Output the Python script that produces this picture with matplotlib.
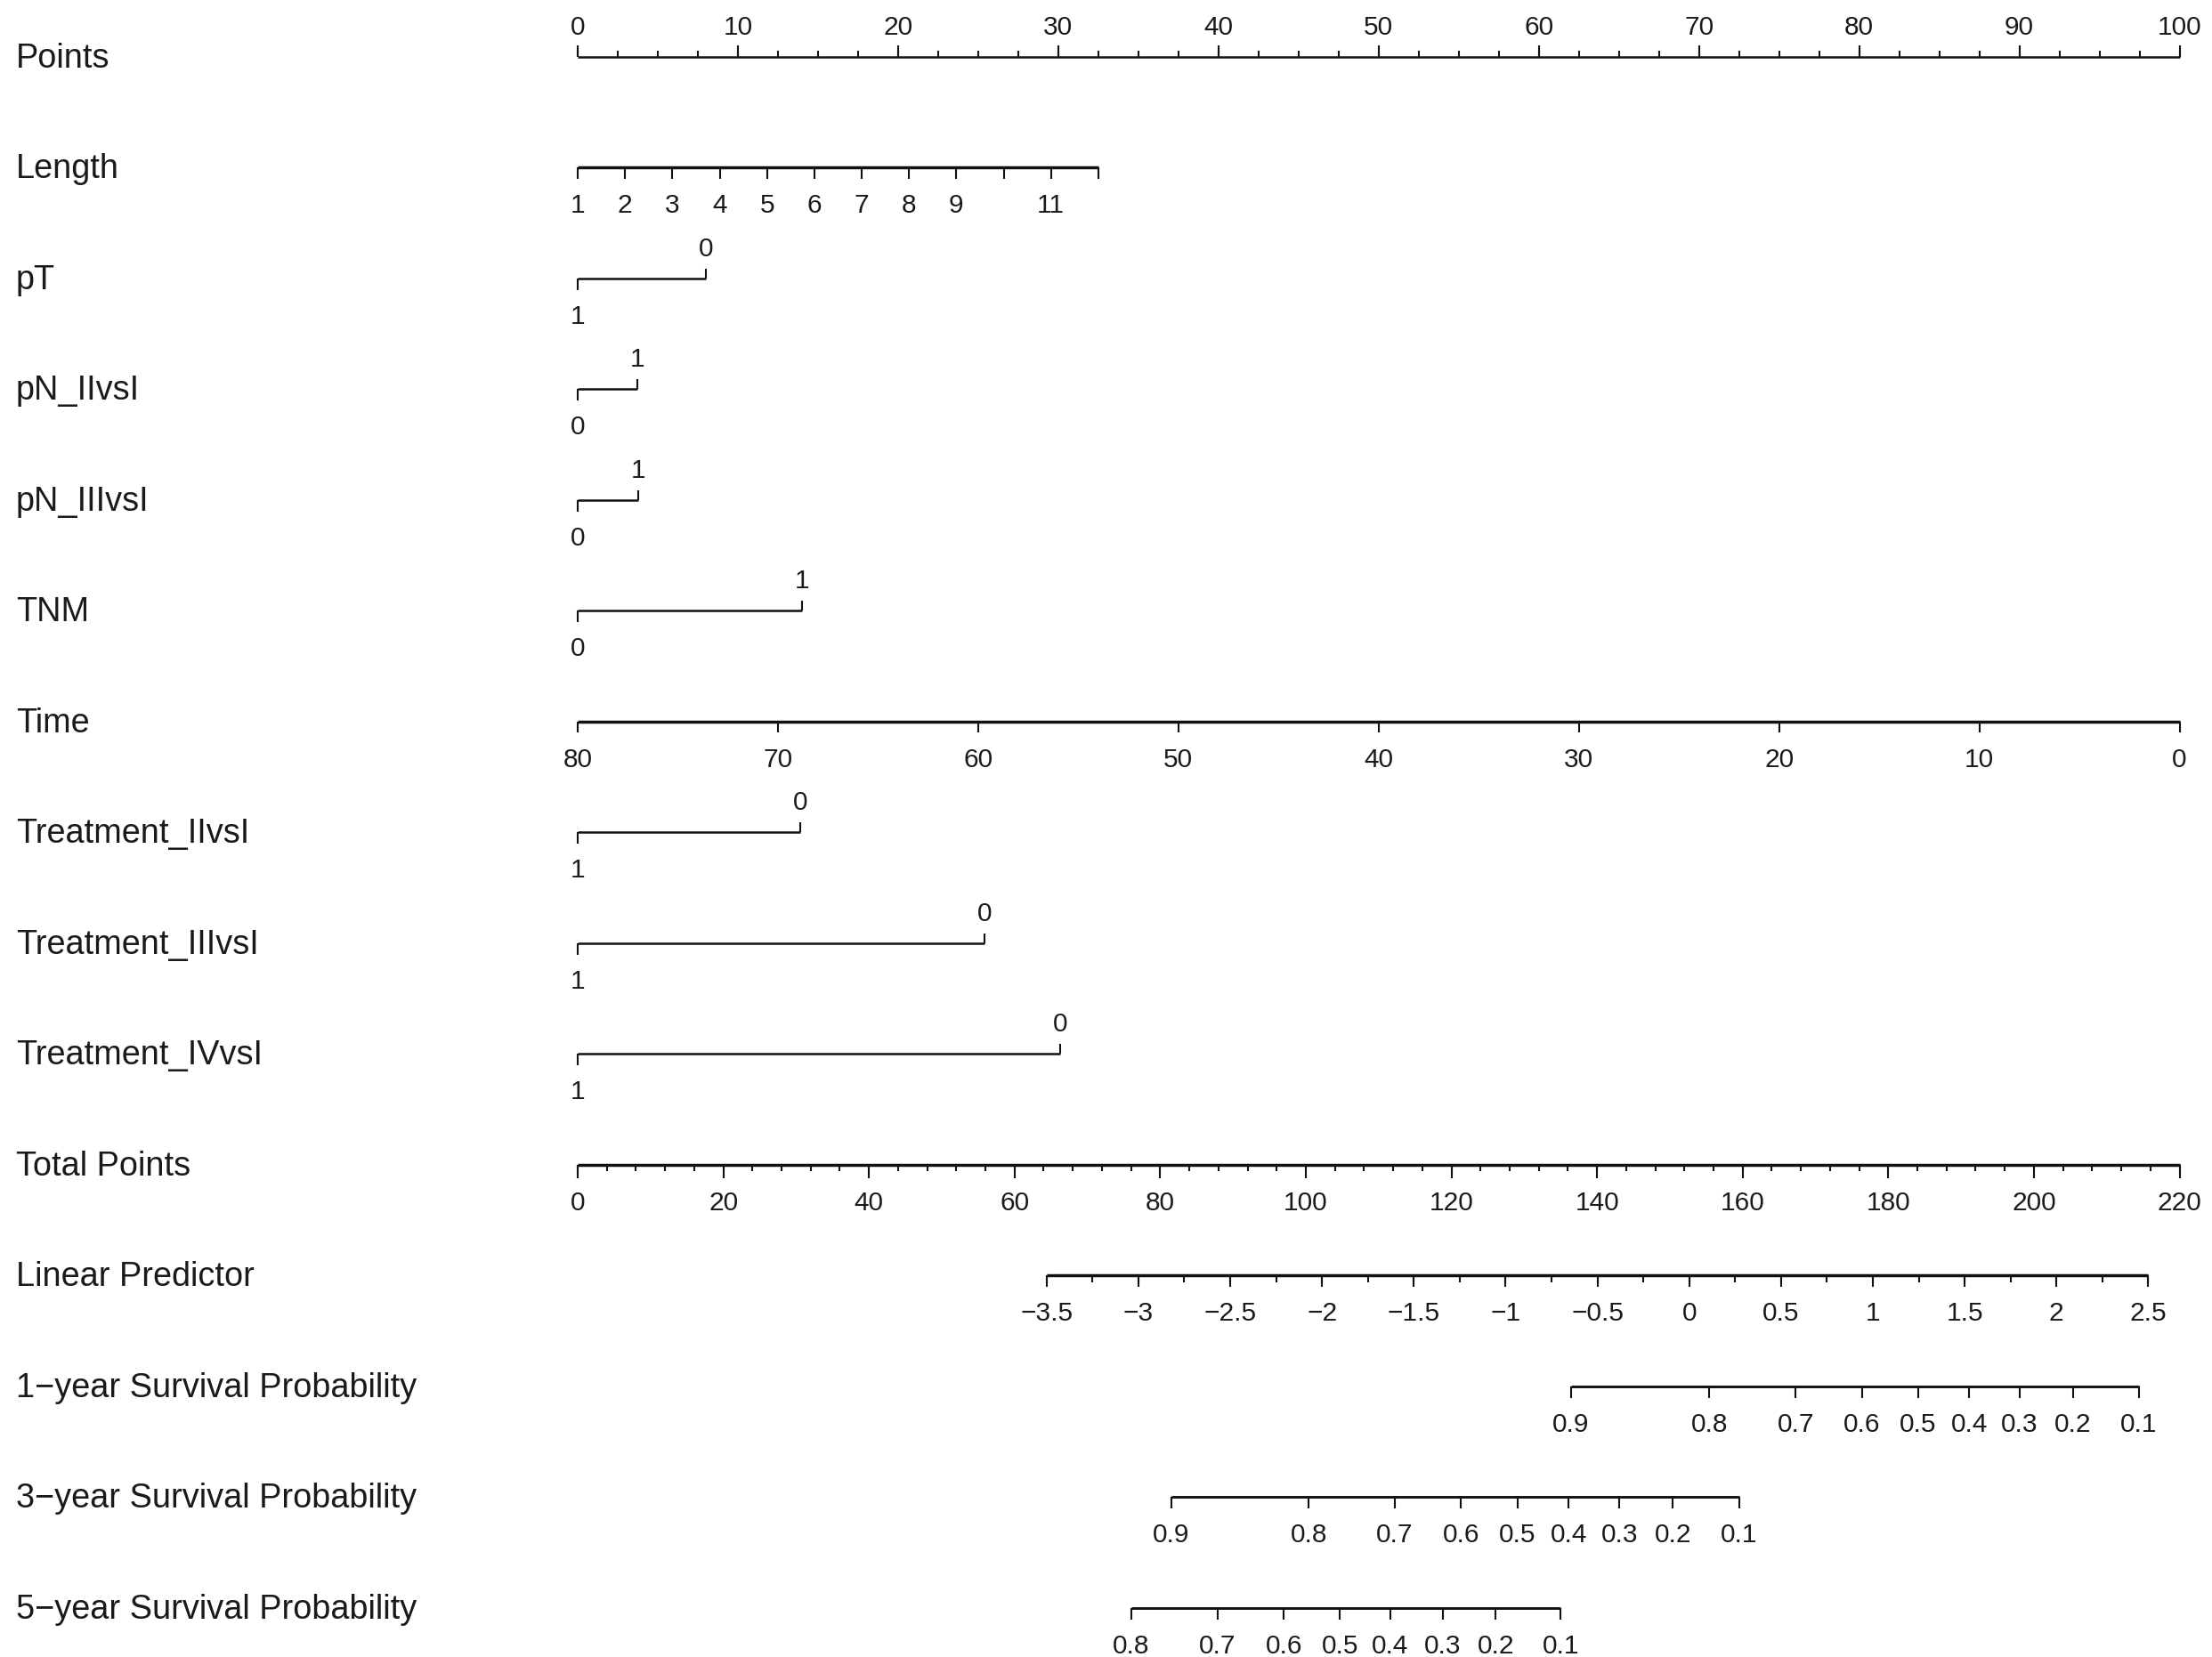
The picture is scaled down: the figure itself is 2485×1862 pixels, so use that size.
import numpy as np
import matplotlib
matplotlib.use("Agg")
import matplotlib.pyplot as plt

plt.rcParams['font.family'] = ['Liberation Sans', 'DejaVu Sans']

# 行名 (nomogram rows, top to bottom)
row_names = ["Points", "Length", "pT", "pN_IIvsI", "pN_IIIvsI", "TNM", "Time",
             "Treatment_IIvsI", "Treatment_IIIvsI", "Treatment_IVvsI",
             "Total Points", "Linear Predictor",
             "1\u2212year Survival Probability",
             "3\u2212year Survival Probability",
             "5\u2212year Survival Probability"]

# Points scale
points_ticks = [0, 10, 20, 30, 40, 50, 60, 70, 80, 90, 100]
points_minor = 2.5

# Length (continuous): value range and its points range
length_ticks = [1, 2, 3, 4, 5, 6, 7, 8, 9, 10, 11, 12]
length_labels = ["1", "2", "3", "4", "5", "6", "7", "8", "9", "", "11", ""]
length_vals = [1, 12]
length_pts = [0, 32.5]

# categorical variables: label at 0 points, label at the other end, points of that end
cat_names = ["pT", "pN_IIvsI", "pN_IIIvsI", "TNM",
             "Treatment_IIvsI", "Treatment_IIIvsI", "Treatment_IVvsI"]
cat_zero_label = ["1", "0", "0", "0", "1", "1", "1"]
cat_end_label = ["0", "1", "1", "1", "0", "0", "0"]
cat_end_pts = [8.0, 3.7, 3.8, 14.0, 13.9, 25.4, 30.1]

# Time (continuous, reversed)
time_ticks = [80, 70, 60, 50, 40, 30, 20, 10, 0]
time_vals = [80, 0]
time_pts = [0, 100]

# Total points
total_ticks = [0, 20, 40, 60, 80, 100, 120, 140, 160, 180, 200, 220]
total_minor = 4
total_max = 220

# Linear predictor, mapped onto total points
lp_ticks = [-3.5, -3, -2.5, -2, -1.5, -1, -0.5, 0, 0.5, 1, 1.5, 2, 2.5]
lp_minor = 0.25
lp_vals = [-3.5, 2.5]
lp_tp = [64.4, 215.7]

# survival probabilities and their total points
surv1_probs = [0.9, 0.8, 0.7, 0.6, 0.5, 0.4, 0.3, 0.2, 0.1]
surv1_tp = [136.4, 155.4, 167.3, 176.4, 184.1, 191.1, 198.0, 205.4, 214.4]
surv3_probs = [0.9, 0.8, 0.7, 0.6, 0.5, 0.4, 0.3, 0.2, 0.1]
surv3_tp = [81.5, 100.4, 112.2, 121.3, 129.1, 136.1, 143.1, 150.4, 159.5]
surv5_probs = [0.8, 0.7, 0.6, 0.5, 0.4, 0.3, 0.2, 0.1]
surv5_tp = [76.0, 87.9, 97.0, 104.7, 111.6, 118.8, 126.1, 135.0]

# ---- layout (pixels of the 2485x1862 output) ----
W, H = 2485, 1862
PX_PER_PT = 17.995      # pixels per "point" unit
X_ZERO = 649            # pixel x of 0 points
ROW_PX = 124.48         # pixels between rows
Y_FIRST = 64            # pixel y of the first row

LINE_C = "#111111"
TEXT_C = "#1a1a1a"
LW = 1.8
LW_THICK = 2.5
TLW = 1.5
FS_ROW = 27.3
FS_TICK = 21.5

fig = plt.figure(figsize=(W / 100, H / 100), dpi=100)
ax = fig.add_axes([0, 0, 1, 1])
ax.set_xlim(-X_ZERO / PX_PER_PT, (W - X_ZERO) / PX_PER_PT)
ax.set_ylim((H - Y_FIRST) / ROW_PX, -Y_FIRST / ROW_PX)
ax.axis('off')


def dy(px):
    return px / ROW_PX


def fmt(v):
    s = ("%g" % v).replace("-", "\u2212")
    return s


def scale(row, xs, labels, side="below", tick=13, minor_xs=None, minor_tick=7,
          lw=LW):
    ax.plot([min(xs), max(xs)], [row, row], color=LINE_C, lw=lw,
            solid_capstyle='butt')
    sgn = -1 if side == "above" else 1
    if minor_xs is not None:
        for x in minor_xs:
            ax.plot([x, x], [row, row + sgn * dy(minor_tick)], color=LINE_C,
                    lw=TLW, solid_capstyle='butt')
    for x, lab in zip(xs, labels):
        ax.plot([x, x], [row, row + sgn * dy(tick)], color=LINE_C, lw=TLW,
                solid_capstyle='butt')
        if lab == "":
            continue
        yy = row - dy(25) if side == "above" else row + dy(51)
        ax.text(x, yy, lab, ha='center', va='baseline', fontsize=FS_TICK,
                color=TEXT_C)


# row titles
for i, name in enumerate(row_names):
    ax.text((18 - X_ZERO) / PX_PER_PT, i + dy(12), name, ha='left',
            va='baseline', fontsize=FS_ROW, color=TEXT_C)

# Points
pmin = np.arange(points_ticks[0], points_ticks[-1] + 0.01, points_minor)
scale(0, points_ticks, [str(v) for v in points_ticks], side="above",
      tick=13, minor_xs=pmin, minor_tick=7)

# Length
lx = np.interp(length_ticks, length_vals, length_pts)
scale(1, lx, length_labels, side="below", tick=13, lw=LW_THICK)

# categorical rows
for name, z, e, p in zip(cat_names, cat_zero_label, cat_end_label, cat_end_pts):
    r = row_names.index(name)
    ax.plot([0, p], [r, r], color=LINE_C, lw=LW, solid_capstyle='butt')
    ax.plot([0, 0], [r, r + dy(13)], color=LINE_C, lw=TLW, solid_capstyle='butt')
    ax.plot([p, p], [r, r - dy(11)], color=LINE_C, lw=TLW, solid_capstyle='butt')
    ax.text(0, r + dy(51), z, ha='center', va='baseline', fontsize=FS_TICK,
            color=TEXT_C)
    ax.text(p, r - dy(25), e, ha='center', va='baseline', fontsize=FS_TICK,
            color=TEXT_C)

# Time
tx = np.interp(time_ticks, time_vals[::-1], time_pts[::-1])
scale(6, tx, [str(v) for v in time_ticks], side="below", tick=12, lw=LW_THICK)

# Total Points (drawn on the 0-100 points width)
to_x = lambda tp: np.asarray(tp, dtype=float) * 100.0 / total_max
tmin = to_x(np.arange(0, total_max + 0.01, total_minor))
scale(10, to_x(total_ticks), [str(v) for v in total_ticks], side="below",
      tick=15, minor_xs=tmin, minor_tick=7, lw=LW_THICK)

# Linear Predictor
lp_min_vals = np.arange(lp_vals[0], lp_vals[1] + 0.001, lp_minor)
lpx = to_x(np.interp(lp_ticks, lp_vals, lp_tp))
lpmx = to_x(np.interp(lp_min_vals, lp_vals, lp_tp))
scale(11, lpx, [fmt(v) for v in lp_ticks], side="below", tick=13,
      minor_xs=lpmx, minor_tick=8, lw=LW_THICK)

# survival probabilities
scale(12, to_x(surv1_tp), [fmt(v) for v in surv1_probs], side="below", tick=13,
      lw=2.1)
scale(13, to_x(surv3_tp), [fmt(v) for v in surv3_probs], side="below", tick=13,
      lw=2.1)
scale(14, to_x(surv5_tp), [fmt(v) for v in surv5_probs], side="below", tick=13,
      lw=2.1)

fig.savefig("out.png", dpi=100, facecolor="white")
